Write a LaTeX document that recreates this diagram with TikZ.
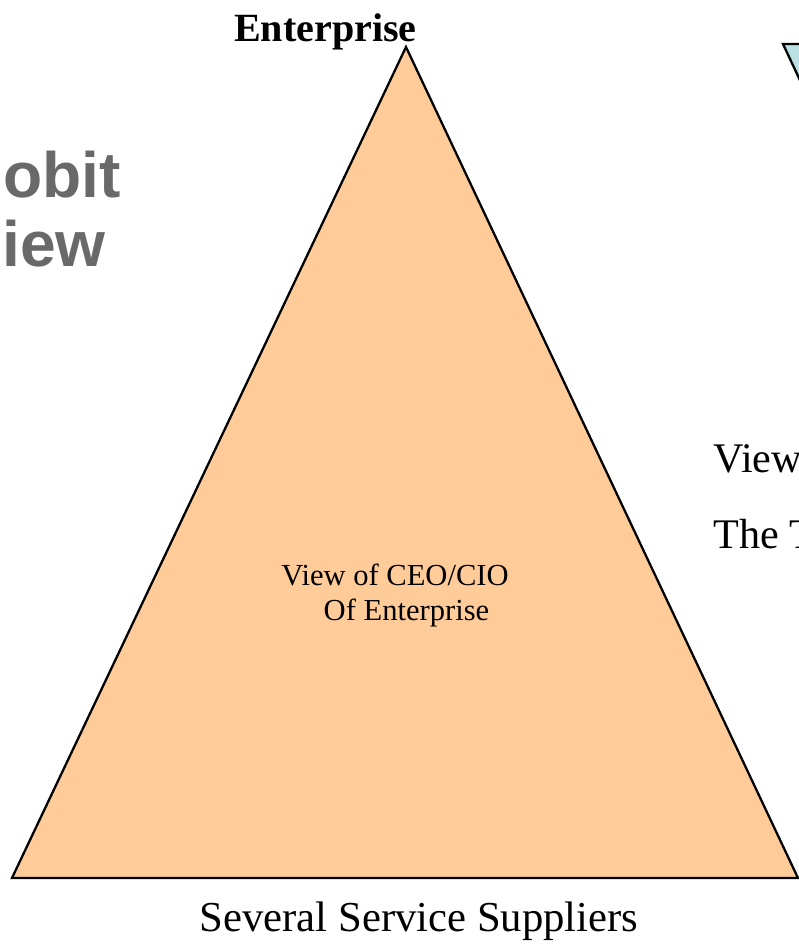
\documentclass[tikz,border=0pt]{standalone}
\usepackage{fontspec}
\setmainfont{Liberation Serif}
\newfontfamily\headfont{Liberation Sans}
\usepackage{tikz}
\definecolor{peach}{RGB}{255,204,153}
\definecolor{paleteal}{RGB}{186,224,227}
\definecolor{slidegray}{RGB}{105,105,105}

\begin{document}
\begin{tikzpicture}[x=0.02cm,y=-0.02cm,line join=miter]
     \useasboundingbox (0,0) rectangle (799,948);
     \clip (0,0) rectangle (799,948);
     % pyramid of the enterprise
     \coordinate (apex) at (406,47);
     \coordinate (left) at (12,878);
     \coordinate (right) at (798,878);
     \draw[line width=1.3pt,fill=peach] (left) -- (apex) -- (right) -- cycle;
     % second pyramid, upside down, cut by the page
     \coordinate (topleft) at (783,44);
     \draw[line width=1.3pt,fill=paleteal] (topleft) -- (830,44) -- (820,123) -- cycle;
     \draw(325.5,41) node[anchor=base] (top) {\fontsize{22.8}{27}\selectfont\bfseries Enterprise};
     \draw(419,931) node[anchor=base] (base) {\fontsize{24.3}{29}\selectfont Several Service Suppliers};
     \draw(395,620) node[anchor=base,align=center,font=\fontsize{17.4}{19.8}\selectfont] (ceo)
       {View of CEO/CIO\\ \hspace*{0.75em}Of Enterprise};
     \draw(713,472) node[anchor=base west,inner sep=0pt] (view) {\fontsize{24}{28}\selectfont View};
     \draw(713,548) node[anchor=base west,inner sep=0pt] (the) {\fontsize{24}{28}\selectfont The T};
     \draw(3,197) node[anchor=base west,inner sep=0pt,text=slidegray] (cobit)
       {\headfont\bfseries\fontsize{36.5}{42}\selectfont obit};
     \draw(2,266) node[anchor=base west,inner sep=0pt,text=slidegray] (iew)
       {\headfont\bfseries\fontsize{36.5}{42}\selectfont iew};
\end{tikzpicture}
\end{document}
